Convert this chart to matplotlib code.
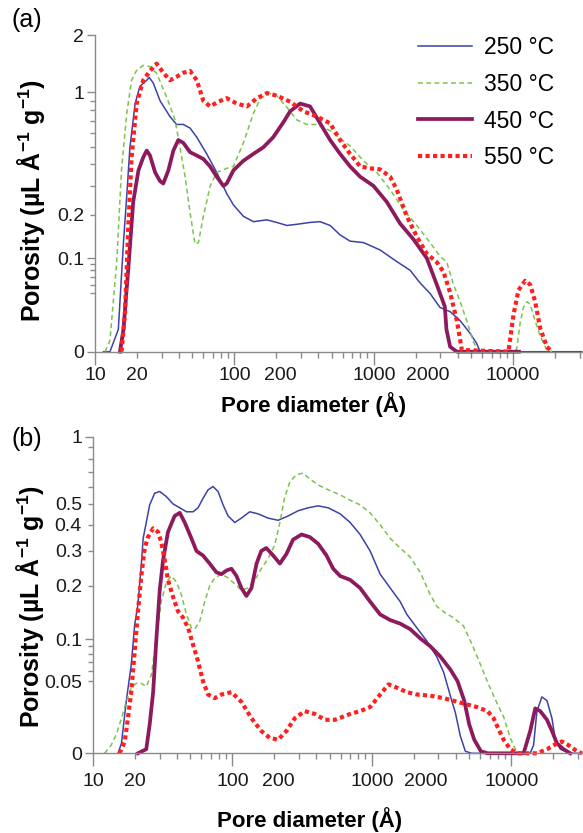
import numpy as np
import matplotlib
matplotlib.use("Agg")
import matplotlib.pyplot as plt
from matplotlib.lines import Line2D
from matplotlib.transforms import offset_copy

plt.rcParams['font.family'] = ['Liberation Sans', 'DejaVu Sans']
plt.rcParams['mathtext.fontset'] = 'custom'
plt.rcParams['mathtext.rm'] = 'Liberation Sans'
plt.rcParams['mathtext.bf'] = 'Liberation Sans:bold'

# ---- panel (a) ----
a_d250 = [11.5, 12.8, 14.7, 16.0, 16.9, 17.8, 19.4, 21.0, 23.5, 24.5, 26.2, 29.3, 34.5, 38.5, 43.0, 48.1, 53.7,
          63.3, 74.7, 88.1, 98.4, 116, 137, 171, 201, 238, 280, 349, 412, 486, 573, 676, 843, 1110, 1462, 1823,
          2151, 2535, 2990, 3530, 4165, 4911, 5480, 5795, 31000]
a_p250 = [0, 0, 0.015, 0.13, 0.263, 0.5, 0.87, 1.075, 1.16, 1.2, 1.12, 0.9, 0.74, 0.67, 0.67, 0.64, 0.57,
          0.46, 0.36, 0.27, 0.23, 0.195, 0.18, 0.185, 0.178, 0.17, 0.173, 0.178, 0.18, 0.17, 0.147, 0.133, 0.13,
          0.115, 0.094, 0.08, 0.062, 0.049, 0.034, 0.03, 0.022, 0.012, 0.005, 0, 0]

a_d350 = [11.8, 12.8, 14.3, 15.5, 16.9, 18.3, 19.9, 22.2, 24.8, 27.7, 32.7, 37.5, 40.7, 44.3, 48.1, 52.2, 55.2,
          59.9, 66.9, 74.7, 88.1, 98.4, 116, 137, 153, 175, 201, 238, 280, 330, 390, 486, 573, 676, 843, 1051,
          1310, 1632, 2035, 2535, 2990, 3340, 3730, 4165, 4645, 5190, 5635, 10330, 10620, 11220, 11850, 12530,
          13240, 14380, 15620, 17440, 19000]
a_p350 = [0, 0.007, 0.092, 0.374, 0.77, 1.16, 1.31, 1.39, 1.37, 1.26, 0.94, 0.71, 0.5, 0.34, 0.205, 0.127, 0.13,
          0.195, 0.298, 0.36, 0.38, 0.39, 0.53, 0.77, 0.92, 0.99, 0.96, 0.83, 0.71, 0.67, 0.67, 0.62, 0.56, 0.51,
          0.42, 0.36, 0.285, 0.215, 0.17, 0.13, 0.103, 0.093, 0.06, 0.04, 0.022, 0.006, 0, 0, 0.002, 0.02, 0.034,
          0.04, 0.037, 0.022, 0.01, 0.001, 0]

a_d450 = [15.1, 16.0, 17.3, 18.8, 20.5, 22.2, 23.5, 24.8, 27.0, 29.3, 30.9, 33.6, 36.5, 39.6, 43.0, 48.1, 53.7,
          59.9, 66.9, 74.7, 83.4, 88.1, 98.4, 116, 137, 161, 190, 225, 251, 296, 349, 412, 486, 573, 676, 798,
          995, 1240, 1545, 1926, 2400, 2830, 3233, 3322, 3530, 3945, 11000]
a_p450 = [0, 0.015, 0.08, 0.24, 0.37, 0.44, 0.48, 0.45, 0.36, 0.32, 0.31, 0.37, 0.48, 0.55, 0.53, 0.47, 0.45,
          0.43, 0.39, 0.34, 0.30, 0.31, 0.37, 0.42, 0.46, 0.5, 0.57, 0.69, 0.79, 0.87, 0.84, 0.68, 0.55, 0.46,
          0.39, 0.34, 0.30, 0.24, 0.175, 0.137, 0.1, 0.06, 0.035, 0.015, 0.003, 0, 0]

a_d550 = [15.5, 16.4, 17.3, 18.3, 19.9, 22.2, 24.8, 27.7, 30.9, 34.5, 38.5, 43.0, 48.1, 53.7, 59.9, 66.9, 76.7,
          88.1, 104, 123, 145, 171, 201, 251, 313, 390, 486, 573, 676, 798, 942, 1110, 1310, 1462, 1726, 2035,
          2400, 2830, 3160, 3530, 3945, 4285, 9250, 10050, 10920, 12190, 13240, 14380, 15620, 17440, 18970]
a_p550 = [0, 0.028, 0.16, 0.44, 0.87, 1.16, 1.3, 1.42, 1.27, 1.16, 1.21, 1.27, 1.3, 1.16, 0.9, 0.84, 0.89,
          0.93, 0.87, 0.84, 0.93, 0.99, 0.96, 0.89, 0.79, 0.74, 0.68, 0.55, 0.46, 0.39, 0.38, 0.375, 0.34, 0.285,
          0.195, 0.143, 0.108, 0.093, 0.078, 0.05, 0.022, 0.001, 0, 0.027, 0.053, 0.065, 0.06, 0.04, 0.016,
          0.003, 0]

# ---- panel (b) ----
b_d250 = [15.1, 16.0, 17.3, 18.8, 19.9, 21.0, 22.2, 22.9, 24.1, 25.5, 27.7, 30.1, 33.6, 37.5, 41.9, 46.8, 52.2,
          56.7, 61.5, 66.9, 72.6, 78.9, 85.7, 93.1, 104, 116, 133, 153, 180, 213, 251, 296, 349, 412, 486, 593,
          699, 824, 972, 1147, 1355, 1597, 1784, 2105, 2484, 2931, 3272, 3655, 3970, 4313, 4685, 5200, 13650,
          14450, 15280, 16590, 18030, 19580, 20690, 22470, 26510, 32700]
b_p250 = [0, 0.005, 0.032, 0.067, 0.122, 0.159, 0.256, 0.345, 0.41, 0.495, 0.56, 0.57, 0.54, 0.50, 0.48, 0.46,
          0.46, 0.48, 0.53, 0.58, 0.60, 0.57, 0.495, 0.44, 0.41, 0.43, 0.46, 0.45, 0.43, 0.42, 0.44, 0.465, 0.48,
          0.49, 0.48, 0.45, 0.41, 0.36, 0.30, 0.23, 0.195, 0.165, 0.14, 0.117, 0.097, 0.076, 0.059, 0.037, 0.024,
          0.009, 0.001, 0, 0, 0.004, 0.025, 0.036, 0.033, 0.02, 0.007, 0.002, 0, 0]

b_d350 = [12.1, 13.5, 14.7, 16.0, 17.3, 18.8, 20.5, 22.2, 24.1, 26.2, 28.4, 30.9, 33.6, 36.5, 39.6, 43.0, 46.8,
          50.8, 53.7, 58.3, 63.3, 68.7, 74.7, 83.4, 93.1, 104, 116, 129, 145, 161, 180, 201, 219, 237, 258, 288,
          321, 359, 412, 486, 593, 699, 824, 972, 1147, 1355, 1597, 1884, 2222, 2623, 2928, 3360, 3855, 4548,
          5220, 5990, 6875, 7890, 8810, 9840, 10690, 11930]
b_p350 = [0, 0.004, 0.01, 0.02, 0.032, 0.044, 0.048, 0.048, 0.045, 0.056, 0.10, 0.165, 0.21, 0.225, 0.21, 0.18,
          0.14, 0.117, 0.115, 0.128, 0.165, 0.20, 0.22, 0.23, 0.22, 0.205, 0.19, 0.195, 0.215, 0.245, 0.275, 0.32,
          0.41, 0.535, 0.63, 0.68, 0.69, 0.65, 0.61, 0.58, 0.55, 0.52, 0.495, 0.455, 0.40, 0.345, 0.31, 0.28,
          0.235, 0.18, 0.155, 0.143, 0.134, 0.12, 0.093, 0.068, 0.047, 0.031, 0.021, 0.008, 0.002, 0]

b_d450 = [21.0, 24.1, 25.5, 27.0, 28.4, 30.1, 31.8, 34.5, 38.5, 41.9, 45.5, 50.8, 55.2, 61.5, 68.7, 76.7, 83.4,
          90.6, 98.4, 107, 116, 126, 137, 149, 161, 175, 196, 219, 244, 272, 313, 359, 412, 473, 528, 593, 699,
          824, 972, 1147, 1355, 1597, 1884, 2222, 2623, 3093, 3655, 4120, 4598, 4995, 5425, 6055, 6760, 12260,
          13680, 14860, 16140, 18030, 19580, 21270, 23730, 26510]
b_p450 = [0, 0.002, 0.016, 0.04, 0.096, 0.19, 0.27, 0.37, 0.44, 0.455, 0.41, 0.345, 0.30, 0.285, 0.26, 0.235,
          0.23, 0.24, 0.245, 0.225, 0.195, 0.177, 0.195, 0.26, 0.30, 0.31, 0.285, 0.26, 0.29, 0.34, 0.36, 0.35,
          0.325, 0.285, 0.245, 0.225, 0.215, 0.195, 0.165, 0.14, 0.13, 0.124, 0.115, 0.101, 0.09, 0.077, 0.062,
          0.05, 0.033, 0.016, 0.007, 0.001, 0, 0, 0.012, 0.027, 0.025, 0.019, 0.012, 0.005, 0.002, 0]

b_d550 = [15.5, 16.9, 17.8, 18.8, 19.9, 21.0, 22.2, 23.5, 24.8, 27.0, 29.3, 30.9, 32.7, 34.5, 37.5, 40.7, 44.3,
          48.1, 52.2, 56.7, 61.5, 66.9, 74.7, 83.4, 98.4, 116, 137, 161, 185, 213, 244, 280, 330, 390, 460, 543,
          699, 824, 972, 1147, 1317, 1511, 1784, 2105, 2623, 3272, 4120, 4807, 5670, 6760, 7470, 8110, 8810,
          9840, 10980, 15280, 18030, 21270, 23100, 25790, 29590, 32140]
b_p550 = [0, 0.006, 0.02, 0.04, 0.083, 0.146, 0.225, 0.31, 0.35, 0.385, 0.37, 0.33, 0.27, 0.215, 0.175, 0.146,
          0.134, 0.117, 0.092, 0.071, 0.05, 0.038, 0.035, 0.038, 0.04, 0.032, 0.02, 0.012, 0.008, 0.007, 0.012,
          0.02, 0.025, 0.023, 0.019, 0.019, 0.023, 0.025, 0.028, 0.038, 0.047, 0.044, 0.04, 0.038, 0.037, 0.035,
          0.032, 0.03, 0.028, 0.025, 0.02, 0.013, 0.007, 0.002, 0, 0, 0.002, 0.005, 0.006, 0.004, 0.001, 0]

labels = ["250 °C", "350 °C", "450 °C", "550 °C"]
x_major = [10, 100, 1000, 10000]
# minor x labels and their small horizontal shift (points), as in the original
x_minor_labeled = {20: 0, 200: 3, 2000: 8.5}

# styles: colour, linewidth, dash pattern
styles = [dict(color="#3c42a6", lw=1.1, ls="-"),
          dict(color="#7dc24b", lw=1.1, ls=(0, (3.2, 2.2))),
          dict(color="#8c1a5c", lw=2.7, ls="-"),
          dict(color="#ff1f1f", lw=3.0, ls=(0, (1, 0.8)))]

def fwd(v):
    return np.log10(np.clip(np.asarray(v, dtype=float) + 0.05, 1e-6, None))

def inv(y):
    return 10 ** np.asarray(y, dtype=float) - 0.05

fig = plt.figure(figsize=(5.83, 8.33), dpi=100)
ax_a = fig.add_axes([95/583, 1-351.7/833, 1-95/583, (351.7-35.3)/833])
ax_b = fig.add_axes([93/583, 1-753.3/833, 1-93/583, (753.3-436.7)/833])

MAJ_LEN = 9

def style_axis(ax, xmax, ymax, y_major, y_minor, y_minor_lab, xpad):
    ax.set_xscale("log")
    ax.set_yscale("function", functions=(fwd, inv))
    ax.set_xlim(10, xmax)
    ax.set_ylim(0, ymax)
    for s in ["top", "right"]:
        ax.spines[s].set_visible(False)
    for s in ["left", "bottom"]:
        ax.spines[s].set_color("#8a8a8a")
        ax.spines[s].set_linewidth(1.0)
    ax.set_xticks(x_major, [str(v) for v in x_major])
    xm = [m * 10 ** e for e in range(1, 5) for m in range(2, 10) if m * 10 ** e < xmax]
    ax.set_xticks(xm, ["" for v in xm], minor=True)
    ax.set_yticks(y_major, [("%g" % v) for v in y_major])
    ax.set_yticks(y_minor, [("%g" % v) if v in y_minor_lab else "" for v in y_minor], minor=True)
    ax.tick_params(which="both", color="#8a8a8a", labelcolor="#1a1a1a", labelsize=14, width=1.0)
    ax.tick_params(axis="x", which="major", length=MAJ_LEN, pad=xpad)
    ax.tick_params(axis="x", which="minor", length=4.5)
    ax.tick_params(axis="y", which="major", length=6, pad=2)
    ax.tick_params(axis="y", which="minor", length=3.5, pad=4.5)
    for v, dx in x_minor_labeled.items():
        tr = offset_copy(ax.get_xaxis_transform(), fig=fig, x=dx, y=-(MAJ_LEN + xpad), units="points")
        ax.text(v, 0, str(v), transform=tr, ha="center", va="top", fontsize=14, color="#1a1a1a")

def draw(ax, series):
    for (d, p), st in zip(series, styles):
        ax.plot(d, p, color=st["color"], lw=st["lw"], ls=st["ls"], dash_capstyle="butt", clip_on=False)

draw(ax_a, [(a_d250, a_p250), (a_d350, a_p350), (a_d450, a_p450), (a_d550, a_p550)])
draw(ax_b, [(b_d250, b_p250), (b_d350, b_p350), (b_d450, b_p450), (b_d550, b_p550)])

style_axis(ax_a, 31700, 2, [0, 0.1, 1, 2],
           [0.05, 0.06, 0.07, 0.08, 0.09, 0.2, 0.3, 0.4, 0.5, 0.6, 0.7, 0.8, 0.9], [0.2], 2)
style_axis(ax_b, 32700, 1, [0, 0.1, 1],
           [0.05, 0.06, 0.07, 0.08, 0.09, 0.2, 0.3, 0.4, 0.5, 0.6, 0.7, 0.8, 0.9], [0.05, 0.2, 0.3, 0.4, 0.5], 5)

handles = [Line2D([], [], color=st["color"], lw=st["lw"], ls=st["ls"], dash_capstyle="butt") for st in styles]
fig.legend(handles, labels, loc="upper left", bbox_to_anchor=(418/583, 1-36/833), frameon=False,
           fontsize=16.5, handlelength=2.35, handletextpad=0.55, labelspacing=0.6, borderpad=0, borderaxespad=0)

ylab = "Porosity (µL Å$^{\\mathbf{-1}}$ g$^{\\mathbf{-1}}$)"
fig.text(31/583, 1-200/833, ylab, rotation=90, ha="center", va="center", fontsize=18, fontweight="bold")
fig.text(30/583, 1-606/833, ylab, rotation=90, ha="center", va="center", fontsize=18, fontweight="bold")
fig.text(314/583, 1-405/833, "Pore diameter (Å)", ha="center", va="center", fontsize=16, fontweight="bold")
fig.text(310/583, 1-820/833, "Pore diameter (Å)", ha="center", va="center", fontsize=16, fontweight="bold")
fig.text(27/583, 1-20/833, "(a)", ha="center", va="center", fontsize=18)
fig.text(27/583, 1-439/833, "(b)", ha="center", va="center", fontsize=18)

fig.savefig("out.png", dpi=100)
